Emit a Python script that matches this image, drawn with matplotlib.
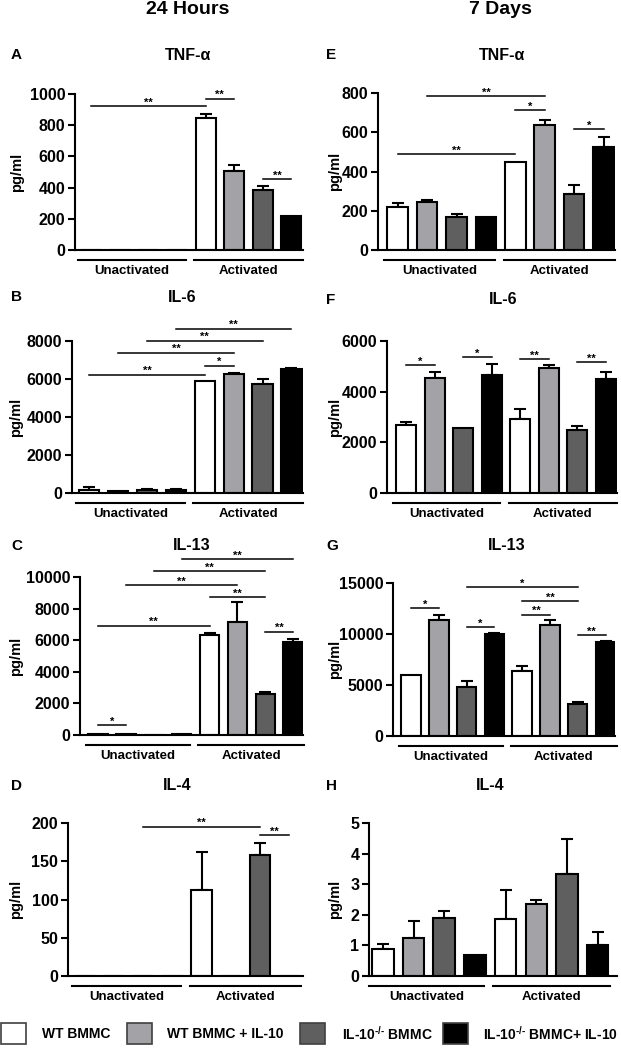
import numpy as np
import matplotlib
matplotlib.use("Agg")
import matplotlib.pyplot as plt
import matplotlib.transforms as mtransforms
from matplotlib.patches import Rectangle

plt.rcParams["font.family"] = ["Liberation Sans", "DejaVu Sans"]
plt.rcParams["font.weight"] = "bold"
plt.rcParams["mathtext.fontset"] = "custom"
plt.rcParams["mathtext.rm"] = "Liberation Sans:bold"
plt.rcParams["mathtext.bf"] = "Liberation Sans:bold"

# ---- data (bar order: Unactivated x4 series, then Activated x4) ----
groups = ["Unactivated", "Activated"]
series_names = ["WT BMMC", "WT BMMC + IL-10",
                r"IL-10$^{\text{-/-}}$ BMMC", r"IL-10$^{\text{-/-}}$ BMMC+ IL-10"]
series_colors = ["white", "#a3a3a7", "#5f5f5f", "black"]

tnf_24h = [0, 0, 0, 0, 848, 506, 385, 218]
tnf_24h_err = [0, 0, 0, 0, 22, 37, 25, 0]
tnf_24h_sig = [(0, 4, 923, "**"), (4, 5, 970, "**"), (6, 7, 453, "**")]

il6_24h = [170, 120, 140, 175, 5900, 6270, 5760, 6515]
il6_24h_err = [150, 0, 70, 55, 0, 70, 230, 85]
il6_24h_sig = [(0, 4, 6217, "**"), (4, 5, 6707, "*"), (1, 5, 7390, "**"),
               (2, 6, 8020, "**"), (3, 7, 8650, "**")]

il13_24h = [40, 80, 30, 50, 6340, 7150, 2580, 5860]
il13_24h_err = [0, 0, 0, 0, 110, 1265, 120, 210]
il13_24h_sig = [(0, 1, 634, "*"), (0, 4, 6910, "**"), (4, 6, 8710, "**"),
                (6, 7, 6550, "**"), (1, 5, 9490, "**"), (2, 6, 10360, "**"),
                (3, 7, 11140, "**")]

il4_24h = [0, 0, 0, 0, 112, 0, 158, 0]
il4_24h_err = [0, 0, 0, 0, 50, 0, 16, 0]
il4_24h_sig = [(2, 6, 195, "**"), (6, 7, 184, "**")]

tnf_7d = [220, 246, 166, 166, 447, 639, 283, 525]
tnf_7d_err = [21, 8, 17, 0, 0, 25, 47, 51]
tnf_7d_sig = [(1, 5, 783, "**"), (4, 5, 712, "*"), (0, 4, 488, "**"), (6, 7, 615, "*")]

il6_7d = [2690, 4550, 2585, 4645, 2925, 4950, 2470, 4490]
il6_7d_err = [130, 240, 0, 445, 385, 100, 155, 270]
il6_7d_sig = [(0, 1, 5050, "*"), (2, 3, 5350, "*"), (4, 5, 5290, "**"), (6, 7, 5170, "**")]

il13_7d = [5990, 11330, 4850, 9990, 6390, 10910, 3145, 9200]
il13_7d_err = [0, 560, 550, 100, 520, 420, 230, 140]
il13_7d_sig = [(0, 1, 12545, "*"), (2, 3, 10680, "*"), (2, 6, 14580, "*"),
               (4, 6, 13200, "**"), (4, 5, 11890, "**"), (6, 7, 9890, "**")]

il4_7d = [0.88, 1.23, 1.88, 0.69, 1.86, 2.35, 3.33, 1.02]
il4_7d_err = [0.17, 0.58, 0.23, 0, 0.96, 0.14, 1.15, 0.43]
il4_7d_sig = []

W, H = 621, 1050
fig = plt.figure(figsize=(W / 100, H / 100), dpi=100)


def add_ax(left, right, top, bottom):
    return fig.add_axes([left / W, 1 - bottom / H, (right - left) / W, (bottom - top) / H])


def draw_panel(box, letter, letter_x, title, title_x, title_y, ylabel_x,
               vals, errs, sigs, yticks, xlim):
    ax = add_ax(*box)
    x = np.arange(len(vals))
    colors = series_colors * 2
    vals = np.array(vals, dtype=float)
    errs = np.array(errs, dtype=float)
    has_err = errs > 0
    ax.errorbar(x[has_err], vals[has_err], yerr=[np.zeros(has_err.sum()), errs[has_err]],
                fmt="none", ecolor="black", elinewidth=1.5, capsize=4.5, capthick=1.5,
                zorder=1)
    ax.bar(x, vals, width=0.7, color=colors, edgecolor="black", linewidth=1.5, zorder=2)

    ax.set_xlim(*xlim)
    ax.set_ylim(yticks[0], yticks[-1])
    ax.set_yticks(yticks)
    ax.set_yticklabels([f"{t:g}" for t in yticks])
    ax.set_xticks([])
    for side in ["top", "right"]:
        ax.spines[side].set_visible(False)
    for side in ["left", "bottom"]:
        ax.spines[side].set_linewidth(1.5)
    ax.tick_params(axis="y", direction="out", length=5, width=1.5, labelsize=11.5, pad=2)

    # significance bars
    for a, b, yv, label in sigs:
        ax.plot([a, b], [yv, yv], color="black", lw=1.1, clip_on=False)
        ax.annotate(label, xy=((a + b) / 2, yv), xytext=(0, -1), textcoords="offset points",
                    ha="center", va="bottom", fontsize=8, annotation_clip=False)

    # group underlines and labels
    base = mtransforms.blended_transform_factory(ax.transData, ax.transAxes)
    line_tr = base + mtransforms.ScaledTranslation(0, -0.10, fig.dpi_scale_trans)
    text_tr = base + mtransforms.ScaledTranslation(0, -0.21, fig.dpi_scale_trans)
    for (x0, x1), name in zip([(-0.45, 3.3), (3.6, 7.4)], groups):
        ax.plot([x0, x1], [0, 0], color="black", lw=1.5, transform=line_tr, clip_on=False)
        ax.text((x0 + x1) / 2, 0, name, transform=text_tr, ha="center", va="center",
                fontsize=9.5)

    left, right, top, bottom = box
    fig.text(letter_x / W, 1 - title_y / H, letter, ha="left", va="center", fontsize=11)
    fig.text(title_x / W, 1 - title_y / H, title, ha="center", va="center", fontsize=11.5)
    fig.text(ylabel_x / W, 1 - (top + bottom) / 2 / H, "pg/ml", rotation=90,
             ha="center", va="center", fontsize=10.5)
    return ax


draw_panel((75, 303, 94, 250), "A", 11, "TNF-α", 188, 55, 17,
           tnf_24h, tnf_24h_err, tnf_24h_sig, [0, 200, 400, 600, 800, 1000], (-0.57, 7.41))
draw_panel((72, 303, 341, 493), "B", 11, "IL-6", 182, 297, 16,
           il6_24h, il6_24h_err, il6_24h_sig, [0, 2000, 4000, 6000, 8000], (-0.6, 7.4))
draw_panel((80, 303, 577, 735), "C", 11, "IL-13", 192, 546, 16,
           il13_24h, il13_24h_err, il13_24h_sig, [0, 2000, 4000, 6000, 8000, 10000],
           (-0.65, 7.35))
draw_panel((68, 303, 823, 976), "D", 11, "IL-4", 177, 786, 16,
           il4_24h, il4_24h_err, il4_24h_sig, [0, 50, 100, 150, 200], (-0.58, 7.48))

draw_panel((378, 615, 93, 250), "E", 326, "TNF-α", 502, 55, 335,
           tnf_7d, tnf_7d_err, tnf_7d_sig, [0, 200, 400, 600, 800], (-0.67, 7.39))
draw_panel((387, 617, 341, 493), "F", 326, "IL-6", 503, 300, 335,
           il6_7d, il6_7d_err, il6_7d_sig, [0, 2000, 4000, 6000], (-0.67, 7.4))
draw_panel((393, 615, 583, 736), "G", 326, "IL-13", 507, 546, 335,
           il13_7d, il13_7d_err, il13_7d_sig, [0, 5000, 10000, 15000], (-0.65, 7.34))
draw_panel((369, 617, 823, 976), "H", 326, "IL-4", 490, 786, 335,
           il4_7d, il4_7d_err, il4_7d_sig, [0, 1, 2, 3, 4, 5], (-0.45, 7.63))

# column headings
fig.text(188 / W, 1 - 10 / H, "24 Hours", ha="center", va="center", fontsize=14)
fig.text(500 / W, 1 - 10 / H, "7 Days", ha="center", va="center", fontsize=14)

# legend
box_x = [1, 127, 300, 443]
text_x = [42, 167, 342, 483]
for bx, tx, name, col in zip(box_x, text_x, series_names, series_colors):
    fig.add_artist(Rectangle((bx / W, 1 - 1044 / H), 25 / W, 21 / H, transform=fig.transFigure,
                             facecolor=col, edgecolor="#404040", linewidth=1.2))
    fig.text(tx / W, 1 - 1034 / H, name, ha="left", va="center", fontsize=10)

fig.savefig("out.png", dpi=100)
